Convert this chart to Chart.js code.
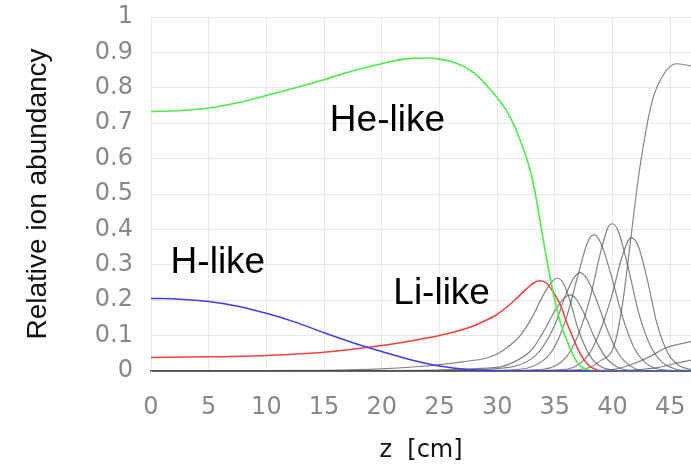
<!DOCTYPE html>
<html>
<head>
<meta charset="utf-8">
<script src="https://cdn.jsdelivr.net/npm/chart.js@4/dist/chart.umd.min.js"></script>
<style>
  body { margin: 0; background: #fff; }
</style>
</head>
<body>
<canvas id="ionChart" width="691" height="467"></canvas>
<script>
// H-like (blue)
let hZ = [0, 2.5, 5, 7.5, 10, 12.5, 15, 17.5, 20, 22.5, 25, 27.5, 30, 32, 46.8];
let hV = [0.205, 0.203, 0.196, 0.183, 0.163, 0.138, 0.108, 0.08, 0.055, 0.032, 0.014, 0.004, 0.0005, 0, 0];

// He-like (green)
let heZ = [0, 2.5, 5, 7.5, 10, 12.5, 15, 17.5, 20, 22.5, 24, 25, 26, 27, 28, 29, 30, 31, 32, 33, 33.4, 34, 34.5, 35, 35.5, 36, 36.5, 37, 37.5, 38, 38.5, 46.8];
let heV = [0.733, 0.736, 0.743, 0.758, 0.778, 0.8, 0.823, 0.848, 0.868, 0.883, 0.884, 0.881, 0.874, 0.862, 0.842, 0.81, 0.772, 0.725, 0.652, 0.55, 0.484, 0.37, 0.28, 0.2, 0.135, 0.09, 0.05, 0.022, 0.008, 0.002, 0, 0];

// Li-like (red)
let liZ = [0, 5, 10, 15, 20, 22.5, 25, 27.5, 29.4, 30, 31, 32, 33, 33.7, 34.3, 35, 35.5, 36, 36.5, 37, 37.5, 38, 38.5, 39, 40, 46.8];
let liV = [0.038, 0.04, 0.044, 0.053, 0.072, 0.085, 0.1, 0.122, 0.149, 0.16, 0.185, 0.215, 0.245, 0.255, 0.248, 0.215, 0.185, 0.14, 0.1, 0.062, 0.033, 0.014, 0.005, 0.001, 0, 0];

// higher charge states (grey)
let g1Z = [0, 15, 20, 23, 25, 27, 29, 30, 31, 32, 33, 34, 34.7, 35.2, 35.7, 36.3, 37, 38, 39, 40, 41, 46.8];
let g1V = [0, 0.002, 0.006, 0.012, 0.018, 0.026, 0.036, 0.048, 0.07, 0.1, 0.15, 0.215, 0.25, 0.262, 0.25, 0.2, 0.12, 0.045, 0.012, 0.003, 0, 0];

let g2Z = [0, 20, 30, 32, 33, 34, 35, 35.8, 36.3, 36.8, 37.5, 38.5, 39.5, 40.5, 42, 46.8];
let g2V = [0, 0.001, 0.01, 0.035, 0.06, 0.11, 0.17, 0.205, 0.215, 0.205, 0.165, 0.09, 0.035, 0.01, 0, 0];

let g3Z = [0, 25, 31, 33, 34, 35, 36, 36.7, 37.2, 37.8, 38.5, 39.5, 40.5, 41.5, 43, 46.8];
let g3V = [0, 0.001, 0.01, 0.035, 0.07, 0.13, 0.22, 0.265, 0.278, 0.26, 0.21, 0.12, 0.05, 0.015, 0, 0];

let g4Z = [0, 28, 32, 34, 35, 36, 37, 37.8, 38.4, 39, 39.8, 40.8, 41.8, 42.8, 44, 46.8];
let g4V = [0, 0.001, 0.005, 0.03, 0.07, 0.15, 0.27, 0.36, 0.385, 0.36, 0.28, 0.16, 0.07, 0.025, 0.005, 0];

let g5Z = [0, 30, 34, 36, 37, 38, 39, 39.6, 40, 40.5, 41.3, 42.3, 43.3, 44.3, 45.5, 46.8];
let g5V = [0, 0.001, 0.005, 0.04, 0.1, 0.2, 0.34, 0.405, 0.416, 0.395, 0.3, 0.16, 0.07, 0.025, 0.005, 0.001];

let g6Z = [0, 32, 36, 38, 39, 40, 40.8, 41.6, 42.2, 43, 43.8, 44.8, 45.8, 46.8];
let g6V = [0, 0.001, 0.005, 0.05, 0.12, 0.22, 0.32, 0.376, 0.355, 0.26, 0.14, 0.05, 0.015, 0.004];

let g7Z = [0, 34, 36, 38, 39, 40, 40.5, 41, 41.6, 42.3, 42.9, 43.5, 44.4, 45.5, 46.8];
let g7V = [0, 0.001, 0.002, 0.01, 0.03, 0.06, 0.12, 0.22, 0.38, 0.56, 0.68, 0.77, 0.837, 0.868, 0.862];

let g8Z = [0, 38, 40, 41.5, 43.2, 44.6, 46.8];
let g8V = [0, 0.001, 0.004, 0.017, 0.04, 0.065, 0.083];

let g9Z = [0, 40, 42, 44, 45.5, 46.8];
let g9V = [0, 0.001, 0.003, 0.01, 0.022, 0.031];

let greyZ = [g1Z, g2Z, g3Z, g4Z, g5Z, g6Z, g7Z, g8Z, g9Z];
let greyV = [g1V, g2V, g3V, g4V, g5V, g6V, g7V, g8V, g9V];

function pts(zs, vs) {
    return zs.map((z, i) => ({x: z, y: vs[i]}));
}

function curve(zs, vs, color, width) {
    return {
        data: pts(zs, vs),
        borderColor: color,
        borderWidth: width,
        pointRadius: 0,
        fill: false,
        cubicInterpolationMode: 'monotone'
    };
}

let datasets = [
    curve(hZ, hV, 'rgb(60, 60, 255)', 1.5),
    curve(heZ, heV, 'rgb(70, 240, 70)', 1.6),
    curve(liZ, liV, 'rgb(255, 60, 60)', 1.5)
];
greyZ.forEach((zs, i) => datasets.push(curve(zs, greyV[i], 'rgba(80, 80, 80, 0.7)', 1.2)));

// text labels placed in data coordinates
let curveLabels = [
    {text: 'He-like', z: 15.5, v: 0.677},
    {text: 'H-like', z: 1.7, v: 0.277},
    {text: 'Li-like', z: 21.0, v: 0.19}
];

const labelPlugin = {
    id: 'curveLabels',
    afterDatasetsDraw(chart) {
        const ctx = chart.ctx;
        ctx.save();
        ctx.fillStyle = '#000';
        ctx.font = '37px "Liberation Sans", Arial, sans-serif';
        ctx.textAlign = 'left';
        ctx.textBaseline = 'alphabetic';
        curveLabels.forEach(l => {
            ctx.fillText(l.text, chart.scales.x.getPixelForValue(l.z), chart.scales.y.getPixelForValue(l.v));
        });
        ctx.restore();
    }
};

document.addEventListener("DOMContentLoaded", function() {
    let ctx = document.getElementById("ionChart").getContext('2d');
    new Chart(ctx, {
        type: 'line',
        data: { datasets: datasets },
        plugins: [labelPlugin],
        options: {
            responsive: false,
            animation: false,
            devicePixelRatio: 1,
            layout: { padding: { top: 17, right: 0, left: 0, bottom: 0 } },
            plugins: {
                legend: { display: false },
                tooltip: { enabled: false }
            },
            scales: {
                x: {
                    type: 'linear',
                    min: 0,
                    max: 46.8,
                    afterFit: s => { s.height = 96; },
                    ticks: {
                        stepSize: 5,
                        includeBounds: false,
                        padding: 2,
                        color: '#888',
                        font: { family: '"DejaVu Sans"', size: 24 }
                    },
                    grid: { color: '#e8e8e8', tickLength: 20, tickColor: 'transparent' },
                    border: { color: '#666', width: 2 },
                    title: {
                        display: true,
                        text: 'z  [cm]',
                        color: '#111',
                        font: { family: '"DejaVu Sans"', size: 24 },
                        padding: { top: 0, bottom: 2 }
                    }
                },
                y: {
                    min: 0,
                    max: 1,
                    afterFit: s => { s.width = 151; },
                    ticks: {
                        stepSize: 0.1,
                        padding: 2,
                        color: '#888',
                        font: { family: '"DejaVu Sans"', size: 24 },
                        callback: v => String(Math.round(v * 10) / 10)
                    },
                    grid: { color: '#e8e8e8', tickLength: 16, tickColor: 'transparent' },
                    border: { color: '#e8e8e8' },
                    title: {
                        display: true,
                        text: 'Relative ion abundancy',
                        color: '#111',
                        font: { family: '"Liberation Sans"', size: 28 },
                        padding: { top: 21, bottom: 0 }
                    }
                }
            }
        }
    });
});
</script>
</body>
</html>
